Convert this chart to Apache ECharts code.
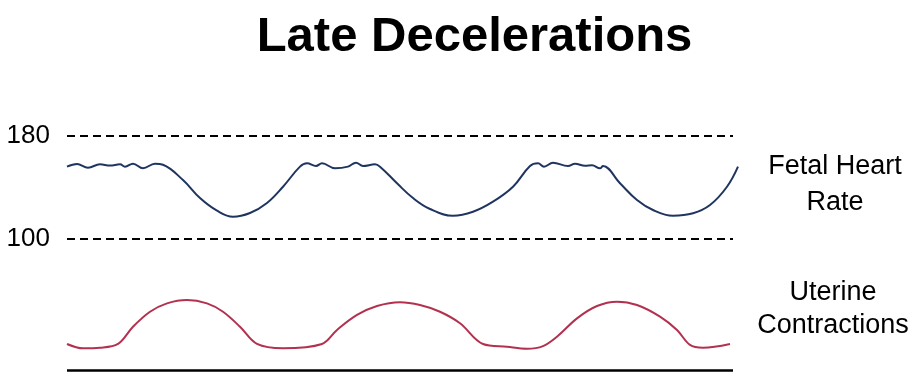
<!DOCTYPE html>
<html><head><meta charset="utf-8">
<script src="https://cdn.jsdelivr.net/npm/echarts@6/dist/echarts.min.js"></script>
<style>html,body{margin:0;padding:0;background:#fff}#c{width:918px;height:390px}</style>
</head><body><div id="c"></div>
<script>
// Time in seconds (x), fetal heart rate in bpm, uterine pressure in mmHg
const fhrTime = [2,12,23,35,45,55,60,68,78,90,98,118,135,152,168,185,202,218,235,242,251,257,270,283,291,298,310,315,332,348,365,388,408,428,448,465,473,479,488,503,510,520,527,535,538,555,572,588,608,628,645,662,673];
const fhrBpm  = [156.2,158.3,155.4,158.0,157.0,158.0,156.2,158.5,154.9,158.5,157.7,145.8,131.8,122.0,117.3,120.2,128.0,140.6,156.2,158.8,156.7,158.8,154.9,156.2,159.3,156.7,158.0,156.2,143.3,131.8,123.3,118.1,121.2,129.0,140.6,156.7,158.8,156.2,159.3,156.7,158.5,156.9,157.3,154.9,156.7,143.3,130.3,122.5,118.1,120.0,126.4,140.6,156.2];
const ucTime = [2,18,35,53,68,85,102,122,142,158,175,192,218,257,272,292,312,335,355,375,395,418,442,462,478,492,512,532,552,572,595,612,625,638,665];
const ucMmHg = [18.6,15.5,15.9,18.6,30.9,41.6,47.6,50.0,47.6,41.6,30.9,18.6,15.5,18.6,28.6,39.3,45.7,48.4,46.4,41.6,33.4,18.6,16.6,15.2,17.1,23.8,36.9,45.7,48.8,46.4,38.1,28.6,17.9,15.9,18.6];
const fhrTicks = [100, 180];
const refStart = 2, refEnd = 668;
const titleText = 'Late Decelerations';
const fhrLabel = 'Fetal Heart\nRate';
const ucLabel = 'Uterine\nContractions';

const FONT = '"Liberation Sans", Arial, sans-serif';
const chart = echarts.init(document.getElementById('c'), null, {renderer: 'canvas'});
const zip = (a, b) => a.map((v, i) => [v, b[i]]);
const hLine = (y) => [{coord: [refStart, y]}, {coord: [refEnd, y]}];
chart.setOption({
  animation: false,
  backgroundColor: '#fff',
  title: {
    text: titleText, left: 469.5, top: 8, textAlign: 'center',
    textStyle: {fontFamily: FONT, fontSize: 49, fontWeight: 'bold', color: '#000'}
  },
  grid: [
    {left: 65, right: 180, top: 136, height: 103},
    {left: 65, right: 180, top: 286, height: 84}
  ],
  xAxis: [
    {gridIndex: 0, type: 'value', min: 0, max: 673, show: false},
    {gridIndex: 1, type: 'value', min: 0, max: 673, show: false}
  ],
  yAxis: [
    {gridIndex: 0, type: 'value', min: fhrTicks[0], max: fhrTicks[1], interval: fhrTicks[1] - fhrTicks[0],
     axisLine: {show: false}, axisTick: {show: false},
     axisLabel: {fontFamily: FONT, fontSize: 26, color: '#000', margin: 15},
     splitLine: {show: false}},
    {gridIndex: 1, type: 'value', min: 0, max: 60, show: false, splitLine: {show: false}}
  ],
  series: [
    {type: 'line', xAxisIndex: 0, yAxisIndex: 0, data: zip(fhrTime, fhrBpm), smooth: 0.4, symbol: 'none', clip: false,
     lineStyle: {color: '#1f3560', width: 2},
     markLine: {silent: true, symbol: ['none', 'none'], label: {show: false},
       lineStyle: {color: '#000', width: 2, type: [8, 5]},
       data: fhrTicks.map(hLine)}},
    {type: 'line', xAxisIndex: 1, yAxisIndex: 1, data: zip(ucTime, ucMmHg), smooth: 0.35, symbol: 'none', clip: false,
     lineStyle: {color: '#b2314f', width: 2},
     markLine: {silent: true, symbol: ['none', 'none'], label: {show: false},
       lineStyle: {color: '#000', width: 2.5, type: 'solid'},
       data: [hLine(0)]}}
  ],
  graphic: [
    {type: 'text', x: 835, y: 184.5, style: {text: fhrLabel, font: '27px ' + FONT, fill: '#000', align: 'center', verticalAlign: 'middle', lineHeight: 36}},
    {type: 'text', x: 833, y: 309, style: {text: ucLabel, font: '27px ' + FONT, fill: '#000', align: 'center', verticalAlign: 'middle', lineHeight: 33.5}}
  ]
});
</script></body></html>
